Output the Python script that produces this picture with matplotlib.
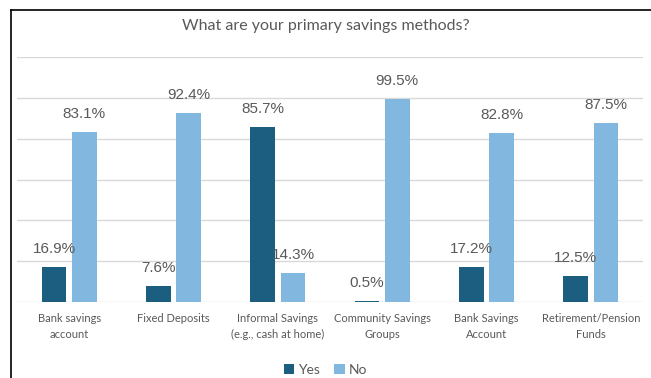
import matplotlib
matplotlib.use("Agg")
import matplotlib.pyplot as plt
from matplotlib.lines import Line2D
import numpy as np

# Survey results: share of respondents using each savings method
categories = ["Bank savings\naccount", "Fixed Deposits", "Informal Savings\n(e.g., cash at home)",
              "Community Savings\nGroups", "Bank Savings\nAccount", "Retirement/Pension\nFunds"]
yes = [16.9, 7.6, 85.7, 0.5, 17.2, 12.5]
no = [83.1, 92.4, 14.3, 99.5, 82.8, 87.5]

dark = "#1b5e80"
light = "#82b8e0"
grey = "#595959"

W, H = 651, 378
fig = plt.figure(figsize=(W / 100, H / 100), dpi=100)

# frame lines along the top and left edge
fig.add_artist(Line2D([11 / W, 1], [1 - 10 / H, 1 - 10 / H], color="black", lw=1.2))
fig.add_artist(Line2D([11 / W, 11 / W], [0, 1 - 10 / H], color="black", lw=1.2))

ax = fig.add_axes([17 / W, 1 - 302 / H, (643 - 17) / W, (302 - 57) / H])
x = np.arange(len(categories))
bw = 0.235
off = 0.145
b1 = ax.bar(x - off, yes, bw, color=dark, label="Yes", zorder=3)
b2 = ax.bar(x + off, no, bw, color=light, label="No", zorder=3)

for bars, vals in ((b1, yes), (b2, no)):
    for r, v in zip(bars, vals):
        ax.annotate(f"{v}%", (r.get_x() + r.get_width() / 2, v), xytext=(0, 8),
                    textcoords="offset points", ha="center", va="bottom",
                    fontsize=11, color=grey, family="Liberation Sans")

ax.set_xlim(-0.5, 5.5)
ax.set_ylim(0, 120)
ax.set_yticks(np.arange(0, 121, 20))
ax.set_yticklabels([])
ax.tick_params(axis="y", length=0)
ax.tick_params(axis="x", length=0, pad=8)
ax.grid(axis="y", color="#d9d9d9", lw=1, zorder=0)
for s in ax.spines.values():
    s.set_visible(False)
ax.set_xticks(x)
ax.set_xticklabels(categories, fontsize=8, color=grey, family="Lato", linespacing=1.5)

fig.text(0.5, 1 - 26 / H, "What are your primary savings methods?", ha="center", va="center",
         fontsize=11.5, color=grey, family="Lato")

fig.legend(handles=[b1, b2], loc="center", bbox_to_anchor=(0.5, 1 - 370 / H), ncol=2,
           frameon=False, handlelength=0.75, handleheight=0.75, handletextpad=0.3,
           columnspacing=1.0, prop={"family": "Lato", "size": 10}, labelcolor=grey)

fig.savefig("out.png", dpi=100)
